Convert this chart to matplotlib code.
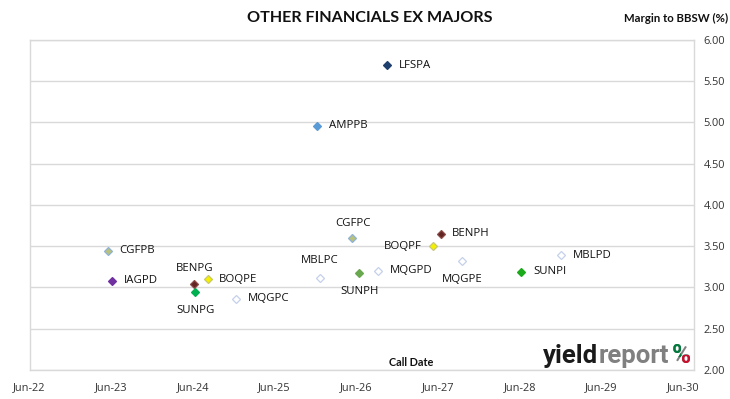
import matplotlib
matplotlib.use("Agg")
import matplotlib.pyplot as plt
import matplotlib.dates as mdates
from matplotlib.transforms import Bbox
import numpy as np
import pandas as pd

# ---- data ----
securities = ["LFSPA", "AMPPB", "CGFPC", "BENPH", "BOQPF", "MBLPD", "MQGPE", "SUNPI",
              "MQGPD", "SUNPH", "MBLPC", "CGFPB", "IAGPD", "BENPG", "BOQPE", "SUNPG", "MQGPC"]
call_dates = ["2026-10-18", "2025-12-08", "2026-05-15", "2027-06-13", "2027-05-10", "2028-12-04",
              "2027-09-17", "2028-06-08", "2026-09-07", "2026-06-15", "2025-12-19", "2023-05-17",
              "2023-06-06", "2024-06-07", "2024-08-05", "2024-06-12", "2024-12-12"]
margins = [5.69, 4.96, 3.60, 3.65, 3.50, 3.39, 3.32, 3.19,
           3.20, 3.175, 3.12, 3.445, 3.08, 3.04, 3.10, 2.94, 2.865]
x_tick_labels = ["Jun-22", "Jun-23", "Jun-24", "Jun-25", "Jun-26", "Jun-27", "Jun-28", "Jun-29", "Jun-30"]
y_ticks = [2.0, 2.5, 3.0, 3.5, 4.0, 4.5, 5.0, 5.5, 6.0]

# ---- styles ----
face = {"LFSPA": "#1F3F6E", "AMPPB": "#5B9BD5", "CGFPC": "#B9C27A", "CGFPB": "#B9C27A",
        "BENPH": "#632523", "BENPG": "#632523", "BOQPF": "#F5F000", "BOQPE": "#F5F000",
        "MBLPD": "white", "MBLPC": "white", "MQGPE": "white", "MQGPD": "white", "MQGPC": "white",
        "SUNPI": "#1AAA1A", "SUNPH": "#6AA84F", "SUNPG": "#00B050", "IAGPD": "#7030A0"}
edge = {"LFSPA": "#1F3F6E", "AMPPB": "#5B9BD5", "CGFPC": "#8FB2DA", "CGFPB": "#8FB2DA",
        "BENPH": "#8A4A48", "BENPG": "#8A4A48", "BOQPF": "#C8C870", "BOQPE": "#C8C870",
        "MBLPD": "#C5D0EA", "MBLPC": "#C5D0EA", "MQGPE": "#C5D0EA", "MQGPD": "#C5D0EA", "MQGPC": "#C5D0EA",
        "SUNPI": "#1AAA1A", "SUNPH": "#6AA84F", "SUNPG": "#00B050", "IAGPD": "#7030A0"}
# label placement: (dx, dy in points, ha, va)
R = (8.5, 0, "left", "center")
place = {"LFSPA": R, "AMPPB": R, "CGFPC": (0, 10.5, "center", "center"), "BENPH": R,
         "BOQPF": (-8, 0, "right", "center"), "MBLPD": R, "MQGPE": (0, -13.5, "center", "center"),
         "SUNPI": R, "MQGPD": R, "SUNPH": (0, -13.5, "center", "center"),
         "MBLPC": (0, 12, "center", "center"), "CGFPB": R, "IAGPD": R,
         "BENPG": (0, 11.5, "center", "center"), "BOQPE": R, "SUNPG": (0, -13, "center", "center"), "MQGPC": R}

W, H = 730, 399
fig = plt.figure(figsize=(W / 100, H / 100), dpi=100)
ax = fig.add_axes([29.5 / W, 1 - 370 / H, (694 - 29.5) / W, (370 - 39.7) / H])

dates = pd.to_datetime(call_dates)
xnum = mdates.date2num(dates)
for s, xv, yv in zip(securities, xnum, margins):
    ax.plot([xv], [yv], marker="D", ms=3.7, mfc=face[s], mec=edge[s], mew=0.9, ls="none", zorder=3)
    dx, dy, ha, va = place[s]
    ax.annotate(s, (xv, yv), xytext=(dx, dy), textcoords="offset points", ha=ha, va=va,
                fontsize=8.2, family="Open Sans", color="#111111")

x0 = mdates.date2num(pd.Timestamp("2022-06-01"))
x_ticks = mdates.date2num(pd.to_datetime([f"20{l[-2:]}-06-01" for l in x_tick_labels]))
x_right = x0 + (x_ticks[-1] - x0) * (694 - 29.5) / (683 - 29.5)
ax.set_xlim(x0, x_right)
ax.set_ylim(2.0, 6.0)
ax.set_xticks(x_ticks)
ax.set_xticklabels(x_tick_labels)
ax.set_yticks(y_ticks)
ax.set_yticklabels([f"{v:.2f}" for v in y_ticks])
ax.yaxis.tick_right()
ax.tick_params(axis="both", length=0, labelsize=7.9, labelcolor="#333333")
ax.tick_params(axis="y", pad=7)
ax.tick_params(axis="x", pad=9)
for lab in ax.get_xticklabels() + ax.get_yticklabels():
    lab.set_family("Open Sans")
ax.grid(axis="y", color="#D9D9D9", lw=1.0)
ax.set_axisbelow(True)
for sp in ax.spines.values():
    sp.set_color("#D9D9D9")
    sp.set_linewidth(1.0)

fig.text(370 / W, 1 - 18 / H, "OTHER FINANCIALS EX MAJORS", ha="center", va="center",
         fontsize=11.6, fontweight="bold", family="Lato", color="#111111")
fig.text(728 / W, 1 - 18 / H, "Margin to BBSW (%)", ha="right", va="center",
         fontsize=8.2, fontweight="bold", family="Lato", color="#111111")
fig.text(411 / W, 1 - 363 / H, "Call Date", ha="center", va="center",
         fontsize=7.8, fontweight="bold", family="Lato", color="#111111")

# watermark logo
renderer = fig.canvas.get_renderer()
base_y = 1 - 363 / H
t1 = fig.text(543 / W, base_y, "yield", ha="left", va="baseline", fontsize=18.5,
              fontweight="bold", family="Roboto", color="#1a1a1a")
bb = t1.get_window_extent(renderer)
t2 = fig.text(bb.x1 / W, base_y, "report", ha="left", va="baseline", fontsize=18.5,
              fontweight="bold", family="Roboto", color="#808080")
bb2 = t2.get_window_extent(renderer)
px = bb2.x1 + 3
t3 = fig.text(px / W, base_y, "%", ha="left", va="baseline", fontsize=18.5,
              fontweight="bold", family="Roboto", color="#808080")
b3 = t3.get_window_extent(renderer)
tg = fig.text(px / W, base_y, "%", ha="left", va="baseline", fontsize=18.5,
              fontweight="bold", family="Roboto", color="#007A3D")
tg.set_clip_box(Bbox([[b3.x0, b3.y0 + 0.45 * b3.height], [b3.x0 + 0.48 * b3.width, b3.y1]]))
tr = fig.text(px / W, base_y, "%", ha="left", va="baseline", fontsize=18.5,
              fontweight="bold", family="Roboto", color="#C8102E")
tr.set_clip_box(Bbox([[b3.x0 + 0.52 * b3.width, b3.y0], [b3.x1, b3.y0 + 0.55 * b3.height]]))

fig.savefig("out.png", dpi=100)
